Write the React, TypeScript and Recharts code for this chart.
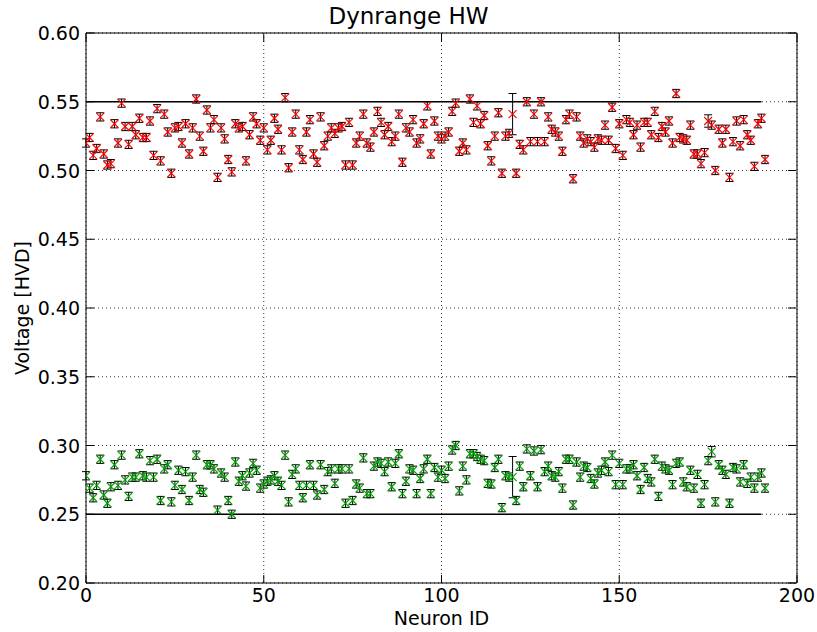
import React from 'react';
import { ScatterChart, Scatter, XAxis, YAxis, CartesianGrid, ErrorBar, ReferenceLine, ReferenceArea } from 'recharts';

// ---- data ----
const redVoltage = [
  0.520, 0.524, 0.511, 0.516, 0.539, 0.512, 0.504, 0.505, 0.534, 0.520,
  0.549, 0.532, 0.519, 0.532, 0.526, 0.538, 0.524, 0.524, 0.536, 0.511,
  0.545, 0.507, 0.541, 0.528, 0.498, 0.531, 0.532, 0.520, 0.534, 0.512,
  0.531, 0.552, 0.525, 0.514, 0.544, 0.531, 0.537, 0.495, 0.531, 0.523,
  0.508, 0.499, 0.534, 0.531, 0.532, 0.507, 0.526, 0.539, 0.534, 0.522,
  0.531, 0.515, 0.522, 0.538, 0.530, 0.515, 0.553, 0.502, 0.528, 0.541,
  0.515, 0.508, 0.528, 0.537, 0.512, 0.506, 0.539, 0.518, 0.525, 0.531,
  0.527, 0.531, 0.532, 0.504, 0.535, 0.504, 0.520, 0.525, 0.541, 0.520,
  0.517, 0.528, 0.543, 0.535, 0.526, 0.532, 0.521, 0.525, 0.541, 0.506,
  0.531, 0.528, 0.537, 0.520, 0.523, 0.534, 0.547, 0.512, 0.536, 0.525,
  0.523, 0.525, 0.528, 0.543, 0.549, 0.514, 0.520, 0.515, 0.552, 0.535,
  0.547, 0.534, 0.540, 0.518, 0.507, 0.525, 0.542, 0.498, 0.525, 0.527,
  0.541, 0.498, 0.519, 0.515, 0.550, 0.521, 0.541, 0.521, 0.550, 0.521,
  0.539, 0.530, 0.528, 0.525, 0.514, 0.537, 0.541, 0.494, 0.539, 0.525,
  0.520, 0.523, 0.521, 0.517, 0.523, 0.522, 0.533, 0.522, 0.546, 0.516,
  0.534, 0.511, 0.537, 0.535, 0.526, 0.533, 0.517, 0.535, 0.535, 0.526,
  0.543, 0.524, 0.532, 0.528, 0.536, 0.520, 0.556, 0.524, 0.523, 0.522,
  0.533, 0.512, 0.512, 0.505, 0.513, 0.536, 0.533, 0.500, 0.530, 0.520,
  0.530, 0.495, 0.521, 0.536, 0.518, 0.537, 0.526, 0.522, 0.503, 0.534,
  0.538, 0.508,
];

const redError = [
  0.003, 0.003, 0.003, 0.003, 0.003, 0.003, 0.003, 0.003, 0.003, 0.003,
  0.003, 0.003, 0.003, 0.003, 0.003, 0.003, 0.003, 0.003, 0.003, 0.003,
  0.003, 0.003, 0.003, 0.003, 0.003, 0.003, 0.003, 0.003, 0.003, 0.003,
  0.003, 0.003, 0.003, 0.003, 0.003, 0.003, 0.003, 0.003, 0.003, 0.003,
  0.003, 0.003, 0.003, 0.003, 0.003, 0.003, 0.003, 0.003, 0.003, 0.003,
  0.003, 0.003, 0.003, 0.003, 0.003, 0.003, 0.003, 0.003, 0.003, 0.003,
  0.003, 0.003, 0.003, 0.003, 0.003, 0.003, 0.003, 0.003, 0.003, 0.003,
  0.003, 0.003, 0.003, 0.003, 0.003, 0.003, 0.003, 0.003, 0.003, 0.003,
  0.003, 0.003, 0.003, 0.003, 0.003, 0.003, 0.003, 0.003, 0.003, 0.003,
  0.003, 0.003, 0.003, 0.003, 0.003, 0.003, 0.003, 0.003, 0.003, 0.003,
  0.003, 0.003, 0.003, 0.003, 0.003, 0.003, 0.003, 0.003, 0.003, 0.003,
  0.003, 0.003, 0.003, 0.003, 0.003, 0.003, 0.003, 0.003, 0.003, 0.003,
  0.015, 0.003, 0.003, 0.003, 0.003, 0.003, 0.003, 0.003, 0.003, 0.003,
  0.003, 0.003, 0.003, 0.003, 0.003, 0.003, 0.003, 0.003, 0.003, 0.003,
  0.003, 0.003, 0.003, 0.003, 0.003, 0.003, 0.003, 0.003, 0.003, 0.003,
  0.003, 0.003, 0.003, 0.003, 0.003, 0.003, 0.003, 0.003, 0.003, 0.003,
  0.003, 0.003, 0.003, 0.003, 0.003, 0.003, 0.003, 0.003, 0.003, 0.003,
  0.003, 0.003, 0.003, 0.003, 0.003, 0.0045, 0.003, 0.003, 0.003, 0.003,
  0.003, 0.003, 0.003, 0.003, 0.003, 0.003, 0.003, 0.003, 0.003, 0.003,
  0.003, 0.003,
];

const greenVoltage = [
  0.278, 0.269, 0.262, 0.271, 0.290, 0.264, 0.258, 0.270, 0.286, 0.271,
  0.293, 0.275, 0.263, 0.277, 0.277, 0.294, 0.278, 0.277, 0.289, 0.277,
  0.290, 0.260, 0.283, 0.286, 0.259, 0.271, 0.282, 0.268, 0.281, 0.260,
  0.277, 0.293, 0.268, 0.266, 0.286, 0.286, 0.283, 0.253, 0.280, 0.277,
  0.260, 0.250, 0.288, 0.274, 0.278, 0.2705, 0.280, 0.287, 0.282, 0.269,
  0.272, 0.274, 0.275, 0.278, 0.274, 0.271, 0.293, 0.259, 0.279, 0.283,
  0.271, 0.262, 0.271, 0.286, 0.271, 0.264, 0.286, 0.268, 0.281, 0.283,
  0.2725, 0.283, 0.283, 0.258, 0.283, 0.260, 0.272, 0.269, 0.291, 0.265,
  0.265, 0.285, 0.288, 0.287, 0.281, 0.288, 0.270, 0.287, 0.294, 0.265,
  0.274, 0.283, 0.282, 0.265, 0.276, 0.283, 0.290, 0.265, 0.284, 0.277,
  0.282, 0.276, 0.285, 0.2967, 0.300, 0.267, 0.285, 0.275, 0.294, 0.294,
  0.292, 0.290, 0.289, 0.2725, 0.272, 0.284, 0.290, 0.2548, 0.278, 0.277,
  0.277, 0.260, 0.285, 0.270, 0.2975, 0.278, 0.296, 0.270, 0.297, 0.281,
  0.285, 0.278, 0.277, 0.281, 0.269, 0.290, 0.290, 0.2567, 0.288, 0.277,
  0.285, 0.284, 0.276, 0.272, 0.280, 0.282, 0.288, 0.281, 0.293, 0.2715,
  0.287, 0.2715, 0.283, 0.283, 0.286, 0.278, 0.268, 0.284, 0.276, 0.2735,
  0.290, 0.263, 0.285, 0.283, 0.282, 0.2715, 0.287, 0.288, 0.2735, 0.270,
  0.282, 0.269, 0.279, 0.258, 0.2715, 0.289, 0.2955, 0.259, 0.286, 0.282,
  0.279, 0.258, 0.284, 0.283, 0.2735, 0.286, 0.2725, 0.277, 0.269, 0.277,
  0.280, 0.269,
];

const greenError = [
  0.003, 0.003, 0.003, 0.003, 0.003, 0.003, 0.003, 0.003, 0.003, 0.003,
  0.003, 0.003, 0.003, 0.003, 0.003, 0.003, 0.003, 0.003, 0.003, 0.003,
  0.003, 0.003, 0.003, 0.003, 0.003, 0.003, 0.003, 0.003, 0.003, 0.003,
  0.003, 0.003, 0.003, 0.003, 0.003, 0.003, 0.003, 0.003, 0.003, 0.003,
  0.003, 0.003, 0.003, 0.003, 0.003, 0.003, 0.003, 0.003, 0.003, 0.003,
  0.003, 0.003, 0.003, 0.003, 0.003, 0.003, 0.003, 0.003, 0.003, 0.003,
  0.003, 0.003, 0.003, 0.003, 0.003, 0.003, 0.003, 0.003, 0.003, 0.003,
  0.003, 0.003, 0.003, 0.003, 0.003, 0.003, 0.003, 0.003, 0.003, 0.003,
  0.003, 0.003, 0.003, 0.003, 0.003, 0.003, 0.003, 0.003, 0.003, 0.003,
  0.003, 0.003, 0.003, 0.003, 0.003, 0.003, 0.003, 0.003, 0.003, 0.003,
  0.003, 0.003, 0.003, 0.003, 0.003, 0.003, 0.003, 0.003, 0.003, 0.003,
  0.003, 0.003, 0.003, 0.003, 0.003, 0.003, 0.003, 0.003, 0.003, 0.003,
  0.015, 0.003, 0.003, 0.003, 0.003, 0.003, 0.003, 0.003, 0.003, 0.003,
  0.003, 0.003, 0.003, 0.003, 0.003, 0.003, 0.003, 0.003, 0.003, 0.003,
  0.003, 0.003, 0.003, 0.003, 0.003, 0.003, 0.003, 0.003, 0.003, 0.003,
  0.003, 0.003, 0.003, 0.003, 0.003, 0.003, 0.003, 0.003, 0.003, 0.003,
  0.003, 0.003, 0.003, 0.003, 0.003, 0.003, 0.003, 0.003, 0.003, 0.003,
  0.003, 0.003, 0.003, 0.003, 0.003, 0.003, 0.0038, 0.003, 0.003, 0.003,
  0.003, 0.003, 0.003, 0.003, 0.003, 0.003, 0.003, 0.003, 0.003, 0.003,
  0.003, 0.003,
];

const xTicks = [0, 50, 100, 150, 200];
const yTicks = [0.2, 0.25, 0.3, 0.35, 0.4, 0.45, 0.5, 0.55, 0.6];
const xDomain = [0, 200];
const yDomain = [0.2, 0.6];
const limitLevels = [0.25, 0.55];
const limitStart = 0;
const limitEnd = 190;

const TITLE = 'Dynrange HW';
const X_LABEL = 'Neuron ID';
const Y_LABEL = 'Voltage [HVD]';

// ---- styles ----
const FONT = '"DejaVu Sans", sans-serif';
const TICK_FONT = 19;
const TICK_LEN = 8;
const Y_LABEL_GAP = 6;
const X_LABEL_GAP = 5;
const RED = '#ff0000';
const GREEN = '#00a000';
const MARK = 4;

const redData = redVoltage.map((v, i) => ({ id: i, v, err: redError[i] }));
const greenData = greenVoltage.map((v, i) => ({ id: i, v, err: greenError[i] }));

const makeX = (color: string) => (props: any) => {
  const { cx, cy } = props;
  if (cx == null || cy == null) return <g />;
  const s = MARK;
  return (
    <g>
      <line x1={cx - s} y1={cy - s} x2={cx + s} y2={cy + s} stroke={color} strokeWidth={1.1} />
      <line x1={cx - s} y1={cy + s} x2={cx + s} y2={cy - s} stroke={color} strokeWidth={1.1} />
    </g>
  );
};
const RedX = makeX(RED);
const GreenX = makeX(GREEN);
const NoShape = () => <g />;

const LeftTick = (props: any) => {
  const { x, y, payload } = props;
  const ax = x + Y_LABEL_GAP;
  return (
    <g>
      <line x1={ax} x2={ax + TICK_LEN} y1={y} y2={y} stroke="#000" strokeWidth={1} />
      <text x={x} y={y} textAnchor="end" dominantBaseline="central" fontSize={TICK_FONT} fontFamily={FONT} fill="#000">
        {Number(payload.value).toFixed(2)}
      </text>
    </g>
  );
};
const RightTick = (props: any) => {
  const { x, y } = props;
  return <line x1={x - 1} x2={x - 1 - TICK_LEN} y1={y} y2={y} stroke="#000" strokeWidth={1} />;
};
const BottomTick = (props: any) => {
  const { x, y, payload } = props;
  const ay = y - X_LABEL_GAP;
  return (
    <g>
      <line x1={x} x2={x} y1={ay} y2={ay - TICK_LEN} stroke="#000" strokeWidth={1} />
      <text x={x} y={y} textAnchor="middle" dominantBaseline="hanging" fontSize={TICK_FONT} fontFamily={FONT} fill="#000">
        {String(payload.value)}
      </text>
    </g>
  );
};
const TopTick = (props: any) => {
  const { x, y } = props;
  return <line x1={x} x2={x} y1={y + 1} y2={y + 1 + TICK_LEN} stroke="#000" strokeWidth={1} />;
};

export default function App() {
  return (
    <div style={{ position: 'absolute', left: 0, top: 0, width: 817, height: 632, background: '#fff', fontFamily: FONT }}>
      <ScatterChart width={817} height={632} margin={{ top: 32, right: 19, bottom: 0, left: 0 }}>
        <CartesianGrid stroke="#000" strokeWidth={0.8} strokeDasharray="1 3" xAxisId="b" yAxisId="l" />
        <XAxis
          xAxisId="b"
          type="number"
          dataKey="id"
          domain={xDomain}
          ticks={xTicks}
          allowDataOverflow
          height={49}
          tickSize={0}
          tickMargin={X_LABEL_GAP}
          tick={<BottomTick />}
          axisLine={false}
          tickLine={false}
        />
        <XAxis
          xAxisId="t"
          orientation="top"
          type="number"
          dataKey="id"
          domain={xDomain}
          ticks={xTicks}
          allowDataOverflow
          height={1}
          tickSize={0}
          tickMargin={0}
          tick={<TopTick />}
          axisLine={false}
          tickLine={false}
        />
        <YAxis
          yAxisId="l"
          type="number"
          dataKey="v"
          domain={yDomain}
          ticks={yTicks}
          allowDataOverflow
          width={86}
          tickSize={0}
          tickMargin={Y_LABEL_GAP}
          tick={<LeftTick />}
          axisLine={false}
          tickLine={false}
        />
        <YAxis
          yAxisId="r"
          orientation="right"
          type="number"
          dataKey="v"
          domain={yDomain}
          ticks={yTicks}
          allowDataOverflow
          width={1}
          tickSize={0}
          tickMargin={0}
          tick={<RightTick />}
          axisLine={false}
          tickLine={false}
        />
        {limitLevels.map((lv) => (
          <ReferenceLine
            key={lv}
            xAxisId="b"
            yAxisId="l"
            segment={[{ x: limitStart, y: lv }, { x: limitEnd, y: lv }]}
            stroke="#000"
            strokeWidth={1.5}
            ifOverflow="visible"
          />
        ))}
        <Scatter xAxisId="b" yAxisId="l" data={redData} dataKey="v" shape={NoShape} isAnimationActive={false}>
          <ErrorBar dataKey="err" direction="y" width={4} stroke="#000" strokeWidth={1} isAnimationActive={false} />
        </Scatter>
        <Scatter xAxisId="b" yAxisId="l" data={redData} dataKey="v" shape={RedX} isAnimationActive={false} />
        <Scatter xAxisId="t" yAxisId="r" data={greenData} dataKey="v" shape={NoShape} isAnimationActive={false}>
          <ErrorBar dataKey="err" direction="y" width={4} stroke="#000" strokeWidth={1} isAnimationActive={false} />
        </Scatter>
        <Scatter xAxisId="t" yAxisId="r" data={greenData} dataKey="v" shape={GreenX} isAnimationActive={false} />
        <ReferenceArea
          xAxisId="b"
          yAxisId="l"
          x1={xDomain[0]}
          x2={xDomain[1]}
          y1={yDomain[0]}
          y2={yDomain[1]}
          fill="none"
          fillOpacity={0}
          stroke="#000"
          strokeWidth={1}
          ifOverflow="visible"
        />
      </ScatterChart>
      <div style={{ position: 'absolute', left: 0, width: 817, top: 2, textAlign: 'center', fontSize: 23, lineHeight: '28px', color: '#000' }}>
        {TITLE}
      </div>
      <div style={{ position: 'absolute', left: 86, width: 711, top: 606, textAlign: 'center', fontSize: 19, lineHeight: '24px', color: '#000' }}>
        {X_LABEL}
      </div>
      <div
        style={{
          position: 'absolute',
          left: 22,
          top: 308,
          transform: 'translate(-50%, -50%) rotate(-90deg)',
          whiteSpace: 'nowrap',
          fontSize: 19,
          lineHeight: '24px',
          color: '#000',
        }}
      >
        {Y_LABEL}
      </div>
    </div>
  );
}
